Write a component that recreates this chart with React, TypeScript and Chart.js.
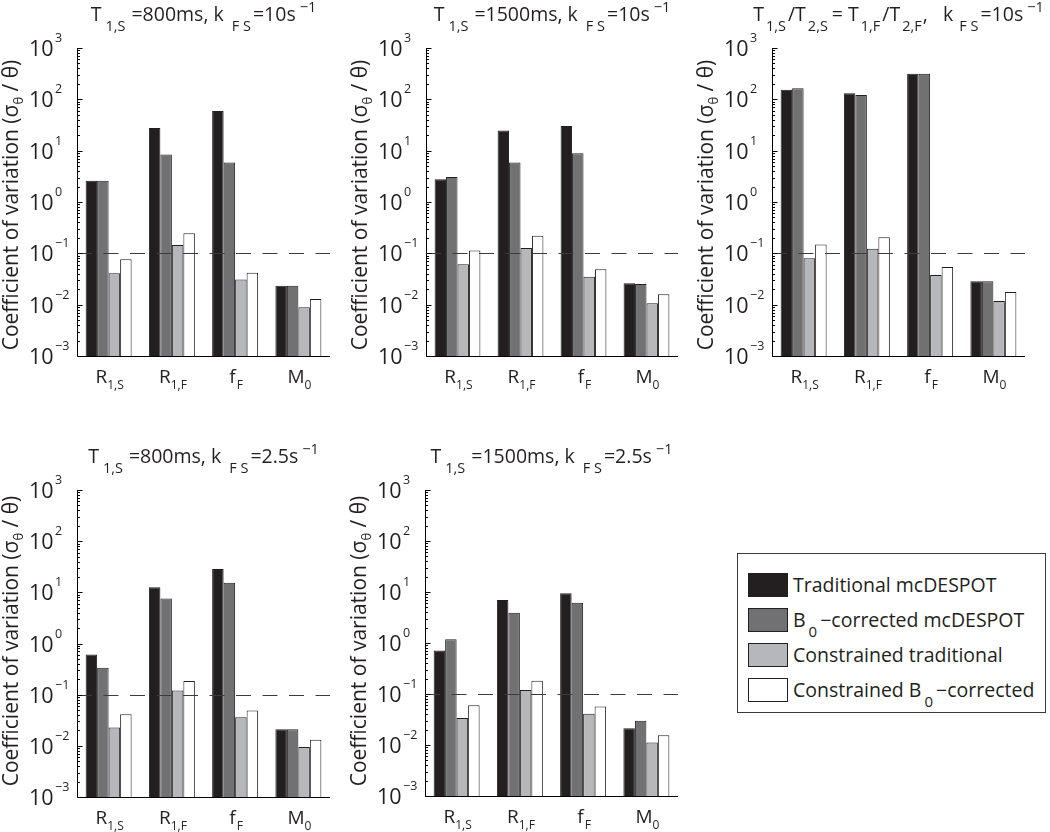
import React, { useEffect, useRef } from 'react';
import { Chart, registerables } from 'chart.js';

Chart.register(...registerables);

// ---------- data ----------
const CATEGORIES = ['R1,S', 'R1,F', 'fF', 'M0'];
const SERIES_NAMES = [
  'Traditional mcDESPOT',
  'B0-corrected mcDESPOT',
  'Constrained traditional',
  'Constrained B0-corrected',
];
const Y_TICKS = [1e-3, 1e-2, 1e-1, 1, 10, 100, 1000];
const Y_TICK_EXPONENTS = ['\u22123', '\u22122', '\u22121', '0', '1', '2', '3'];
const THRESHOLD = 0.1;

// Panel A: T1,S=800ms, kFS=10/s
const A_TRADITIONAL = [2.6, 27.7, 59, 0.0234];
const A_B0_CORRECTED = [2.6, 8.4, 5.9, 0.0234];
const A_CONSTRAINED = [0.041, 0.146, 0.031, 0.0089];
const A_CONSTRAINED_B0 = [0.077, 0.247, 0.042, 0.0129];

// Panel B: T1,S=1500ms, kFS=10/s
const B_TRADITIONAL = [2.78, 24.7, 30.4, 0.026];
const B_B0_CORRECTED = [3.08, 5.9, 8.9, 0.0253];
const B_CONSTRAINED = [0.061, 0.127, 0.035, 0.0106];
const B_CONSTRAINED_B0 = [0.113, 0.22, 0.049, 0.016];

// Panel C: T1,S/T2,S = T1,F/T2,F, kFS=10/s
const C_TRADITIONAL = [153, 132, 314, 0.0286];
const C_B0_CORRECTED = [165, 122, 314, 0.0286];
const C_CONSTRAINED = [0.08, 0.123, 0.038, 0.0118];
const C_CONSTRAINED_B0 = [0.148, 0.206, 0.054, 0.0177];

// Panel D: T1,S=800ms, kFS=2.5/s
const D_TRADITIONAL = [0.61, 12.5, 28.5, 0.0211];
const D_B0_CORRECTED = [0.334, 7.6, 15.4, 0.0211];
const D_CONSTRAINED = [0.0228, 0.12, 0.036, 0.0095];
const D_CONSTRAINED_B0 = [0.0415, 0.184, 0.049, 0.0132];

// Panel E: T1,S=1500ms, kFS=2.5/s
const E_TRADITIONAL = [0.71, 6.95, 9.4, 0.0214];
const E_B0_CORRECTED = [1.18, 3.93, 6.17, 0.0298];
const E_CONSTRAINED = [0.034, 0.12, 0.041, 0.0112];
const E_CONSTRAINED_B0 = [0.06, 0.181, 0.057, 0.0156];

// ---------- styling ----------
const FONT = '"Open Sans", "DejaVu Sans", sans-serif';
const BAR_COLORS = ['#231f20', '#717174', '#b6b7ba', '#ffffff'];
const EDGE = '#231f20';
const TEXT = '#231f20';

type Seg = { t?: string; kind?: 'main' | 'sub' | 'sup'; gap?: number };

const TITLE_STYLE = { main: 19.5, small: 14.5, subDy: 10, supDy: -9 };

const TITLE_A: Seg[] = [
  { t: 'T' }, { gap: 4 }, { t: '1,S', kind: 'sub' }, { gap: 6 }, { t: '=800ms, k' }, { gap: 8 },
  { t: 'F S', kind: 'sub' }, { gap: 2 }, { t: '=10s' }, { gap: 4 }, { t: '\u22121', kind: 'sup' },
];
const TITLE_B: Seg[] = [
  { t: 'T' }, { gap: 4 }, { t: '1,S', kind: 'sub' }, { gap: 6 }, { t: '=1500ms, k' }, { gap: 8 },
  { t: 'F S', kind: 'sub' }, { gap: 2 }, { t: '=10s' }, { gap: 4 }, { t: '\u22121', kind: 'sup' },
];
const TITLE_C: Seg[] = [
  { t: 'T' }, { gap: 2 }, { t: '1,S', kind: 'sub' }, { gap: 2 }, { t: '/T' }, { gap: 2 },
  { t: '2,S', kind: 'sub' }, { gap: 4 }, { t: '= T' }, { gap: 2 }, { t: '1,F', kind: 'sub' }, { gap: 2 },
  { t: '/T' }, { gap: 2 }, { t: '2,F', kind: 'sub' }, { gap: 1 },
  { t: ',   k' }, { gap: 6 }, { t: 'F S', kind: 'sub' }, { gap: 2 }, { t: '=10s' }, { gap: 4 },
  { t: '\u22121', kind: 'sup' },
];
const TITLE_D: Seg[] = [
  { t: 'T' }, { gap: 4 }, { t: '1,S', kind: 'sub' }, { gap: 6 }, { t: '=800ms, k' }, { gap: 8 },
  { t: 'F S', kind: 'sub' }, { gap: 2 }, { t: '=2.5s' }, { gap: 4 }, { t: '\u22121', kind: 'sup' },
];
const TITLE_E: Seg[] = [
  { t: 'T' }, { gap: 4 }, { t: '1,S', kind: 'sub' }, { gap: 6 }, { t: '=1500ms, k' }, { gap: 8 },
  { t: 'F S', kind: 'sub' }, { gap: 2 }, { t: '=2.5s' }, { gap: 4 }, { t: '\u22121', kind: 'sup' },
];

const X_LABEL_SEGS: Seg[][] = [
  [{ t: 'R' }, { t: '1,S', kind: 'sub' }],
  [{ t: 'R' }, { t: '1,F', kind: 'sub' }],
  [{ t: 'f' }, { gap: 1 }, { t: 'F', kind: 'sub' }],
  [{ t: 'M' }, { t: '0', kind: 'sub' }],
];

const Y_TITLE_SEGS: Seg[] = [
  { t: 'Coefficient of variation (\u03c3' }, { t: '\u03b8', kind: 'sub' }, { t: ' / \u03b8)' },
];

type PanelDef = {
  title: Seg[];
  series: number[][];
  box: { left: number; right: number; top: number; bottom: number };
  yTitleCenter: number;
};

const PANELS: PanelDef[] = [
  {
    title: TITLE_A,
    series: [A_TRADITIONAL, A_B0_CORRECTED, A_CONSTRAINED, A_CONSTRAINED_B0],
    box: { left: 77, right: 330, top: 48, bottom: 356 },
    yTitleCenter: 205,
  },
  {
    title: TITLE_B,
    series: [B_TRADITIONAL, B_B0_CORRECTED, B_CONSTRAINED, B_CONSTRAINED_B0],
    box: { left: 426, right: 678, top: 48, bottom: 356 },
    yTitleCenter: 205,
  },
  {
    title: TITLE_C,
    series: [C_TRADITIONAL, C_B0_CORRECTED, C_CONSTRAINED, C_CONSTRAINED_B0],
    box: { left: 772, right: 1025, top: 48, bottom: 356 },
    yTitleCenter: 205,
  },
  {
    title: TITLE_D,
    series: [D_TRADITIONAL, D_B0_CORRECTED, D_CONSTRAINED, D_CONSTRAINED_B0],
    box: { left: 77, right: 330, top: 490, bottom: 797 },
    yTitleCenter: 641,
  },
  {
    title: TITLE_E,
    series: [E_TRADITIONAL, E_B0_CORRECTED, E_CONSTRAINED, E_CONSTRAINED_B0],
    box: { left: 425, right: 678, top: 490, bottom: 796 },
    yTitleCenter: 641,
  },
];

function drawRich(
  ctx: CanvasRenderingContext2D,
  segs: Seg[],
  x: number,
  y: number,
  align: 'left' | 'center' | 'right',
  sizes: { main: number; small: number; subDy: number; supDy: number },
) {
  const fontFor = (s: Seg) => `${s.kind ? sizes.small : sizes.main}px ${FONT}`;
  let w = 0;
  for (const s of segs) {
    if (s.gap !== undefined) { w += s.gap; continue; }
    ctx.font = fontFor(s);
    w += ctx.measureText(s.t || '').width;
  }
  let cx = align === 'left' ? x : align === 'center' ? x - w / 2 : x - w;
  ctx.textAlign = 'left';
  ctx.textBaseline = 'alphabetic';
  for (const s of segs) {
    if (s.gap !== undefined) { cx += s.gap; continue; }
    ctx.font = fontFor(s);
    const dy = s.kind === 'sub' ? sizes.subDy : s.kind === 'sup' ? sizes.supDy : 0;
    ctx.fillText(s.t || '', cx, y + dy);
    cx += ctx.measureText(s.t || '').width;
  }
}

function makeDecorPlugin(p: PanelDef) {
  return {
    id: 'panelDecor',
    afterDatasetsDraw(chart: any) {
      const ctx: CanvasRenderingContext2D = chart.ctx;
      const a = chart.chartArea;
      const ys = chart.scales.y;
      const xs = chart.scales.x;
      ctx.save();

      // dashed threshold line
      const ty = Math.round(ys.getPixelForValue(THRESHOLD)) + 0.5;
      ctx.strokeStyle = '#3c3c3c';
      ctx.lineWidth = 1;
      ctx.setLineDash([15, 11.5]);
      ctx.beginPath();
      ctx.moveTo(a.left, ty);
      ctx.lineTo(a.right, ty);
      ctx.stroke();
      ctx.setLineDash([]);

      // axes
      ctx.strokeStyle = '#000';
      ctx.beginPath();
      const lx = Math.round(a.left) + 0.5;
      const by = Math.round(a.bottom) + 0.5;
      ctx.moveTo(lx, a.top);
      ctx.lineTo(lx, by);
      ctx.lineTo(a.right, by);
      ctx.stroke();

      // ticks on y axis (major + minor, pointing inward)
      ctx.beginPath();
      for (let i = 0; i < Y_TICKS.length; i++) {
        const v = Y_TICKS[i];
        const py = Math.round(ys.getPixelForValue(v)) + 0.5;
        ctx.moveTo(lx, py);
        ctx.lineTo(lx + 5, py);
        if (i < Y_TICKS.length - 1) {
          for (let m = 2; m <= 9; m++) {
            const pm = Math.round(ys.getPixelForValue(v * m)) + 0.5;
            ctx.moveTo(lx, pm);
            ctx.lineTo(lx + 2.5, pm);
          }
        }
      }
      ctx.stroke();

      ctx.fillStyle = TEXT;
      // y tick labels
      for (let i = 0; i < Y_TICKS.length; i++) {
        const py = ys.getPixelForValue(Y_TICKS[i]);
        ctx.font = `21.5px ${FONT}`;
        ctx.textAlign = 'right';
        ctx.textBaseline = 'alphabetic';
        ctx.fillText('10', a.left - 23.5, py + 8);
        ctx.font = `12.5px ${FONT}`;
        ctx.textAlign = 'left';
        ctx.fillText(Y_TICK_EXPONENTS[i], a.left - 22, py - 6);
      }

      // x labels
      for (let i = 0; i < CATEGORIES.length; i++) {
        const px = xs.getPixelForValue(i);
        drawRich(ctx, X_LABEL_SEGS[i], px + 1, a.bottom + 27, 'center', {
          main: 19, small: 12, subDy: 6, supDy: -8,
        });
      }

      // title
      drawRich(ctx, p.title, (a.left + a.right) / 2, a.top - 27, 'center', TITLE_STYLE);

      // y title
      ctx.save();
      ctx.translate(a.left - 59, p.yTitleCenter);
      ctx.rotate(-Math.PI / 2);
      drawRich(ctx, Y_TITLE_SEGS, 0, 0, 'center', { main: 21, small: 13, subDy: 5, supDy: -8 });
      ctx.restore();

      ctx.restore();
    },
  };
}

function Panel({ p }: { p: PanelDef }) {
  const ref = useRef<HTMLCanvasElement>(null);
  useEffect(() => {
    if (!ref.current) return;
    const chart = new Chart(ref.current, {
      type: 'bar',
      data: {
        labels: CATEGORIES,
        datasets: p.series.map((vals, i) => ({
          label: SERIES_NAMES[i],
          data: vals,
          backgroundColor: BAR_COLORS[i],
          borderColor: EDGE,
          borderWidth: 1,
          categoryPercentage: 0.727,
          barPercentage: 1,
        })),
      },
      options: {
        responsive: false,
        animation: false,
        devicePixelRatio: 1,
        layout: {
          padding: {
            left: p.box.left,
            right: 1050 - p.box.right,
            top: p.box.top,
            bottom: 832 - p.box.bottom,
          },
        },
        plugins: {
          legend: { display: false },
          title: { display: false },
          tooltip: { enabled: false },
        },
        scales: {
          x: {
            grid: { display: false, drawTicks: false },
            border: { display: false },
            ticks: { display: false },
          },
          y: {
            type: 'logarithmic',
            min: 1e-3,
            max: 1e3,
            grid: { display: false, drawTicks: false },
            border: { display: false },
            ticks: { display: false },
          },
        },
      } as any,
      plugins: [makeDecorPlugin(p)],
    });
    return () => chart.destroy();
  }, [p]);
  return (
    <canvas
      ref={ref}
      width={1050}
      height={832}
      style={{ position: 'absolute', left: 0, top: 0, width: 1050, height: 832 }}
    />
  );
}

function Sub({ children }: { children: React.ReactNode }) {
  return (
    <span style={{ fontSize: 15, position: 'relative', top: 10, margin: '0 3px 0 3px' }}>{children}</span>
  );
}

function Legend() {
  const rows: React.ReactNode[] = [
    <>Traditional mcDESPOT</>,
    <>B<Sub>0</Sub>{'\u2212'}corrected mcDESPOT</>,
    <>Constrained traditional</>,
    <>Constrained B<Sub>0</Sub>{'\u2212'}corrected</>,
  ];
  const tops = [19, 54, 89, 123.5];
  return (
    <div
      style={{
        position: 'absolute',
        left: 737,
        top: 553,
        width: 307,
        height: 158,
        border: '1px solid #3a3a3a',
        background: '#fff',
        fontFamily: FONT,
        color: TEXT,
      }}
    >
      {rows.map((r, i) => (
        <React.Fragment key={i}>
          <div
            style={{
              position: 'absolute',
              left: 10,
              top: tops[i],
              width: 38,
              height: 22,
              background: BAR_COLORS[i],
              border: `1px solid ${EDGE}`,
            }}
          />
          <div
            style={{
              position: 'absolute',
              left: 55,
              top: tops[i] - 3,
              height: 30,
              lineHeight: '30px',
              fontSize: 19.5,
              whiteSpace: 'nowrap',
            }}
          >
            {r}
          </div>
        </React.Fragment>
      ))}
    </div>
  );
}

export default function App() {
  return (
    <div
      style={{
        position: 'fixed',
        left: 0,
        top: 0,
        width: 1050,
        height: 832,
        background: '#fff',
        overflow: 'hidden',
      }}
    >
      {PANELS.map((p, i) => (
        <Panel key={i} p={p} />
      ))}
      <Legend />
    </div>
  );
}
